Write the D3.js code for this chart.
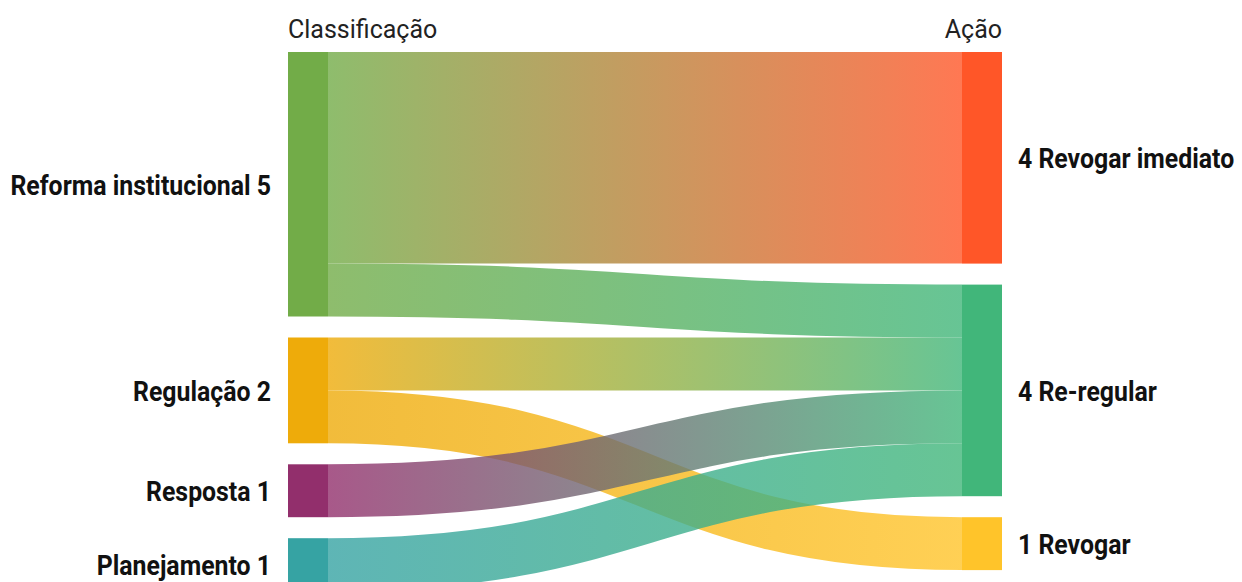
<!DOCTYPE html>
<html><head><meta charset="utf-8">
<script src="https://cdn.jsdelivr.net/npm/d3@7"></script>
<style>body{margin:0;background:#fff}svg{display:block}</style>
</head><body>
<svg id="c" width="1242" height="582"></svg>
<script>
const leftNodes = ["Reforma institucional", "Regulação", "Resposta", "Planejamento"];
const rightNodes = ["Revogar imediato", "Re-regular", "Revogar"];
const nodeColors = {
  "Reforma institucional": "#72ac48", "Regulação": "#eeab0a", "Resposta": "#922f6c", "Planejamento": "#36a3a3",
  "Revogar imediato": "#ff5628", "Re-regular": "#41b67a", "Revogar": "#ffc42a"
};
const linkSources = ["Reforma institucional", "Reforma institucional", "Regulação", "Regulação", "Resposta", "Planejamento"];
const linkTargets = ["Revogar imediato", "Re-regular", "Re-regular", "Revogar", "Re-regular", "Re-regular"];
const linkValues = [4, 1, 1, 1, 1, 1];
const columnTitles = ["Classificação", "Ação"];

(function () {
const svg = d3.select("#c");
const nodeWidth = 40, padding = 21, topY = 52;
const x = d3.scaleOrdinal().domain([0, 1]).range([288, 962]);
const h = d3.scaleLinear().domain([0, 1]).range([0, 52.9]);

const links = linkSources.map((s, i) => ({source: s, target: linkTargets[i], value: linkValues[i]}));
const nodes = {};
[leftNodes, rightNodes].forEach((col, d) => {
  let y = topY;
  col.forEach(name => {
    const vin = d3.sum(links.filter(l => l.target === name), l => l.value);
    const vout = d3.sum(links.filter(l => l.source === name), l => l.value);
    const v = Math.max(vin, vout);
    nodes[name] = {name, depth: d, value: v, x0: x(d), x1: x(d) + nodeWidth, y0: y, y1: y + h(v)};
    y += h(v) + padding;
  });
});
Object.values(nodes).forEach(n => { n.outY = n.y0; n.inY = n.y0; });
links.forEach(l => {
  const s = nodes[l.source];
  l.width = h(l.value);
  l.y0 = s.outY + l.width / 2; s.outY += l.width;
});
[...links].sort((a, b) => leftNodes.indexOf(a.source) - leftNodes.indexOf(b.source)).forEach(l => {
  const t = nodes[l.target];
  l.y1 = t.inY + l.width / 2; t.inY += l.width;
});

const defs = svg.append("defs");
links.forEach((l, i) => {
  const s = nodes[l.source], t = nodes[l.target];
  const g = defs.append("linearGradient").attr("id", "g" + i)
    .attr("gradientUnits", "userSpaceOnUse")
    .attr("x1", s.x1).attr("x2", t.x0).attr("y1", 0).attr("y2", 0);
  g.append("stop").attr("offset", "0%").attr("stop-color", nodeColors[l.source]);
  g.append("stop").attr("offset", "100%").attr("stop-color", nodeColors[l.target]);
});

const linkGen = d3.linkHorizontal().source(d => [nodes[d.source].x1, d.y0]).target(d => [nodes[d.target].x0, d.y1]);
svg.append("g").attr("fill", "none").attr("stroke-opacity", 0.8)
  .selectAll("path").data(links).join("path")
  .attr("d", linkGen)
  .attr("stroke", (d, i) => `url(#g${i})`)
  .attr("stroke-width", d => d.width);

svg.append("g").selectAll("rect").data(Object.values(nodes)).join("rect")
  .attr("x", d => d.x0).attr("y", d => d.y0)
  .attr("width", nodeWidth).attr("height", d => d.y1 - d.y0)
  .attr("fill", d => nodeColors[d.name]);

const sx = 0.92;
const lab = svg.append("g").attr("font-family", "Roboto, sans-serif").attr("font-weight", 700)
  .attr("font-size", 27).attr("fill", "#111");
Object.values(nodes).forEach(n => {
  const left = n.depth === 0;
  const tx = left ? n.x0 - 17 : n.x1 + 16;
  const ty = (n.y0 + n.y1) / 2 + 1;
  lab.append("text")
    .attr("transform", `translate(${tx},${ty}) scale(${sx},1)`)
    .attr("dy", "0.35em")
    .attr("text-anchor", left ? "end" : "start")
    .text(left ? `${n.name} ${n.value}` : `${n.value} ${n.name}`);
});

const hd = svg.append("g").attr("font-family", "Roboto, sans-serif").attr("font-weight", 400)
  .attr("font-size", 25).attr("fill", "#222");
hd.append("text").attr("transform", `translate(${x(0)},38)`).text(columnTitles[0]);
hd.append("text").attr("transform", `translate(${x(1) + nodeWidth},38)`)
  .attr("text-anchor", "end").text(columnTitles[1]);
})();
</script>
</body></html>
